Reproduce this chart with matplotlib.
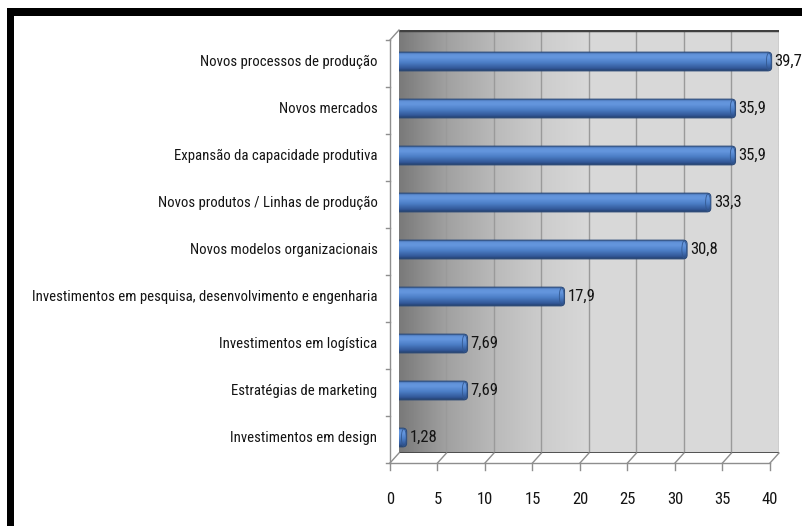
import numpy as np
import matplotlib
matplotlib.use('Agg')
import matplotlib.pyplot as plt
from matplotlib import font_manager
from matplotlib.colors import LinearSegmentedColormap
from matplotlib.lines import Line2D
from matplotlib.patches import FancyBboxPatch, Ellipse, Rectangle
from matplotlib.transforms import Affine2D, IdentityTransform

# ── dados ─────────────────────────────────────────────────────────────────────
categorias = [
    'Novos processos de produção',
    'Novos mercados',
    'Expansão da capacidade produtiva',
    'Novos produtos / Linhas de produção',
    'Novos modelos organizacionais',
    'Investimentos em pesquisa, desenvolvimento e engenharia',
    'Investimentos em logística',
    'Estratégias de marketing',
    'Investimentos em design',
]
valores = [39.7, 35.9, 35.9, 33.3, 30.8, 17.9, 7.69, 7.69, 1.28]
rotulos = ['39,7', '35,9', '35,9', '33,3', '30,8', '17,9', '7,69', '7,69', '1,28']
ticks_x = [0, 5, 10, 15, 20, 25, 30, 35, 40]

W, H = 803, 526
DX, DY = -9, -10          # parede do fundo -> plano da frente (pixels)
TXT = '#141414'


# fonte estreita (tipo Arial Narrow) se houver alguma instalada
def _escolhe_fonte():
    pref = ['Liberation Sans Narrow', 'Arial Narrow', 'Roboto Condensed',
            'Open Sans Condensed', 'Noto Sans', 'Roboto', 'Open Sans', 'DejaVu Sans']
    melhor, nota = None, 99
    for f in font_manager.fontManager.ttflist:
        if f.style != 'normal' or str(f.weight) not in ('400', 'normal', 'regular', 'book'):
            continue
        if 'Mono' in f.name or 'Serif' in f.name:
            continue
        estreita = 'Narrow' in f.name or 'Condensed' in f.name or \
            str(f.stretch) in ('condensed', 'extra-condensed', 'semi-condensed')
        if not estreita:
            continue
        fam = next((i for i, p in enumerate(pref) if f.name.startswith(p)), 50)
        n = fam + (0 if str(f.stretch) != 'semi-condensed' else 20)
        if n < nota:
            melhor, nota = f.fname, n
    return melhor


_arq = _escolhe_fonte()


def fp(size):
    if _arq:
        return font_manager.FontProperties(fname=_arq, size=size)
    return font_manager.FontProperties(family='DejaVu Sans', stretch='condensed', size=size)


fig = plt.figure(figsize=(W / 100, H / 100), dpi=100)
fig.patch.set_facecolor('white')

# tamanho da fonte dos rótulos: o mais longo cabe entre a moldura e o eixo
_r = fig.canvas.get_renderer()
_t = fig.text(0, 0, max(categorias, key=len), fontproperties=fp(12))
FS = min(12.5, 12 * 343 / _t.get_window_extent(_r).width)
_t.remove()
FS_NUM = 12

# moldura preta (cortada à direita e embaixo)
fig.add_artist(Rectangle((7 / W, 0), 7 / W, 1 - 8 / H,
                         transform=fig.transFigure, color='black', lw=0))
fig.add_artist(Rectangle((7 / W, 1 - 16 / H), 1, 8 / H,
                         transform=fig.transFigure, color='black', lw=0))

# eixo = parede do fundo
ax = fig.add_axes([399 / W, (H - 453) / H, 380 / W, 423 / H])
XL = (0, 40)
YL = (-0.436, 8.564)
ax.axis('off')

# fundo em degradê
cmap_fundo = LinearSegmentedColormap.from_list('fundo', [
    (0.0, '#7a7a7a'), (0.12, '#a0a0a0'), (0.25, '#bababa'),
    (0.38, '#cdcdcd'), (0.5, '#d8d8d8'), (1.0, '#dadada')])
ax.imshow(np.linspace(0, 1, 400)[None, :], cmap=cmap_fundo,
          extent=[XL[0], XL[1], YL[0], YL[1]], aspect='auto',
          interpolation='bilinear', zorder=0)
for t in ticks_x[1:]:
    ax.plot([t, t], YL, color='#9a9a9a', lw=1, zorder=1)
ax.plot(XL, [YL[1], YL[1]], color='#404040', lw=2.5, zorder=2, solid_capstyle='butt')
ax.plot(XL, [YL[0], YL[0]], color='#454545', lw=2, zorder=2, solid_capstyle='butt')

tr_meio = ax.transData + Affine2D().translate(DX / 2, DY / 2)
tr_frente = ax.transData + Affine2D().translate(DX, DY)
ident = IdentityTransform()
CINZA = '#8e8e8e'


def linha(xs, ys, cor=CINZA, lw=1.0):
    ax.add_line(Line2D(xs, ys, transform=ident, color=cor, lw=lw, clip_on=False))


# piso
for t in ticks_x:
    bx, by = ax.transData.transform((t, YL[0]))
    linha([bx, bx + DX], [by, by + DY])
    linha([bx + DX, bx + DX], [by + DY, by + DY - 7])
    ax.text(t, YL[0], str(t), transform=tr_frente + Affine2D().translate(0, -37),
            ha='center', va='center', color=TXT, fontproperties=fp(FS_NUM))
fx0, fy0 = tr_frente.transform((XL[0], YL[0]))
fx1, fy1 = tr_frente.transform((XL[1], YL[0]))
linha([fx0, fx1], [fy0, fy1])

# parede lateral esquerda
tx, ty = tr_frente.transform((XL[0], YL[1]))
bx, by = ax.transData.transform((XL[0], YL[1]))
linha([fx0, tx], [fy0, ty])
linha([tx, bx], [ty, by])
for k in range(len(categorias) + 1):
    px, py = tr_frente.transform((XL[0], YL[0] + k * (YL[1] - YL[0]) / len(categorias)))
    linha([px - 4, px], [py, py])

# barras cilíndricas
cmap_barra = LinearSegmentedColormap.from_list('barra', [
    (0.0, '#22406c'), (0.15, '#33599a'), (0.45, '#4c7ec6'),
    (0.72, '#6496de'), (0.88, '#6293da'), (1.0, '#3f68a5')])
grad = np.linspace(0, 1, 60)[:, None]
ypos = np.arange(len(categorias))[::-1]
barras = ax.barh(ypos, valores, height=0.4, transform=tr_meio,
                 color='#4f81bd', zorder=3)
asp = (380 / 40) / (423 / (YL[1] - YL[0]))
for b in barras:
    x, y, w, h = b.get_x(), b.get_y(), b.get_width(), b.get_height()
    b.set_visible(False)
    forma = FancyBboxPatch((x, y), w, h, boxstyle='round,pad=0,rounding_size=0.4',
                           mutation_aspect=asp, transform=tr_meio,
                           facecolor='none', edgecolor='#2a4877', lw=0.7, zorder=5)
    ax.add_patch(forma)
    img = ax.imshow(grad, cmap=cmap_barra, extent=[x, x + w, y, y + h],
                    transform=tr_meio, aspect='auto', origin='lower',
                    interpolation='bilinear', zorder=4)
    img.set_clip_path(forma)
    tampa = Ellipse((x + w - 0.3, y + h / 2), 0.5, h * 0.92, transform=tr_meio,
                    facecolor='none', edgecolor='#33588f', lw=0.6, zorder=5)
    ax.add_patch(tampa)
    tampa.set_clip_path(forma)

for yy, v, rot, cat in zip(ypos, valores, rotulos, categorias):
    ax.text(v, yy, rot, transform=tr_meio + Affine2D().translate(3, 0),
            ha='left', va='center', color=TXT, fontproperties=fp(FS_NUM))
    ax.text(0, yy, cat, transform=tr_meio + Affine2D().translate(-17, 0),
            ha='right', va='center', color=TXT, fontproperties=fp(FS))

ax.set_xlim(*XL)
ax.set_ylim(*YL)
fig.savefig('out.png', dpi=100)
